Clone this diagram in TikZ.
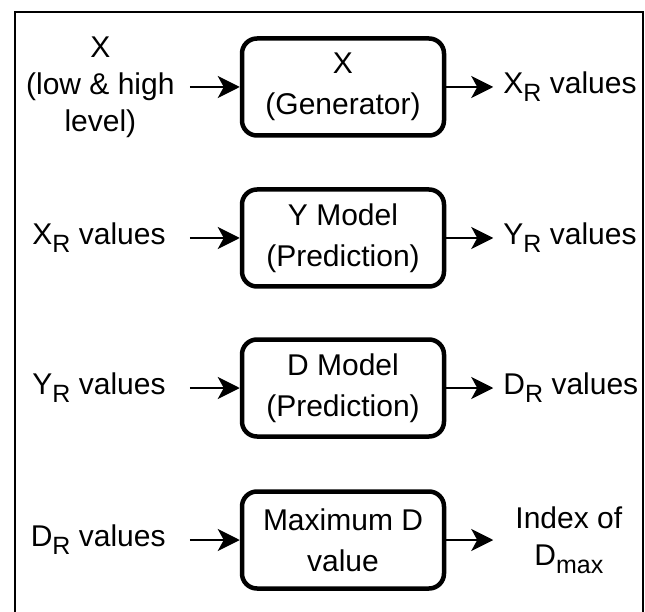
\documentclass[tikz,border=0pt]{standalone}
\usepackage{fontspec}
\setmainfont{Liberation Sans}
\usetikzlibrary{arrows.meta,positioning}
\newcommand{\subrot}[1]{\raisebox{-0.27em}{\fontsize{25}{25}\selectfont #1}}
\tikzstyle{etapa}=[draw=black, line width=4.5pt, rounded corners=15pt, minimum width=202pt, minimum height=97pt, align=center, inner sep=0pt, font=\fontsize{30}{41}\selectfont]
\tikzstyle{rotulo}=[align=center, inner sep=12pt]
\tikzstyle{seta}=[-{Stealth[length=22pt, width=22pt, inset=6pt]}, line width=2pt]

\begin{document}
\begin{tikzpicture}[x=1pt, y=-1pt, font=\fontsize{30}{37}\selectfont]
		\useasboundingbox (0,0) rectangle (645,612);
		\draw[line width=2pt] (15,612) -- (15,12) -- (643,12) -- (643,612);
		% etapas
		\node[etapa](gerador) at (343,87) {X\\(Generator)};
		\node[etapa](modeloy) at (343,238) {Y Model\\(Prediction)};
		\node[etapa](modelod) at (343,388) {D Model\\(Prediction)};
		\node[etapa](maximo) at (343,540) {Maximum D\\value};
		% entradas
		\node[rotulo, inner xsep=15pt, left=50pt of gerador](ex) {X\\(low \& high\\level)};
		\node[rotulo, inner xsep=24pt, left=50pt of modeloy](exr) {X\subrot{R} values};
		\node[rotulo, inner xsep=24pt, left=50pt of modelod](eyr) {Y\subrot{R} values};
		\node[rotulo, inner xsep=24pt, left=50pt of maximo](edr) {D\subrot{R} values};
		% saidas
		\node[rotulo, inner xsep=10pt, right=47pt of gerador](sxr) {X\subrot{R} values};
		\node[rotulo, inner xsep=10pt, right=47pt of modeloy](syr) {Y\subrot{R} values};
		\node[rotulo, inner xsep=10pt, right=47pt of modelod](sdr) {D\subrot{R} values};
		\node[rotulo, inner xsep=22pt, right=47pt of maximo](sidx) {Index of\\D\subrot{max}};
		\path[seta]
			(ex) edge (gerador)
			(exr) edge (modeloy)
			(eyr) edge (modelod)
			(edr) edge (maximo)
			(gerador) edge (sxr.west)
			(modeloy) edge (syr.west)
			(modelod) edge (sdr.west)
			(maximo) edge (sidx.west);
	\end{tikzpicture}
\end{document}
